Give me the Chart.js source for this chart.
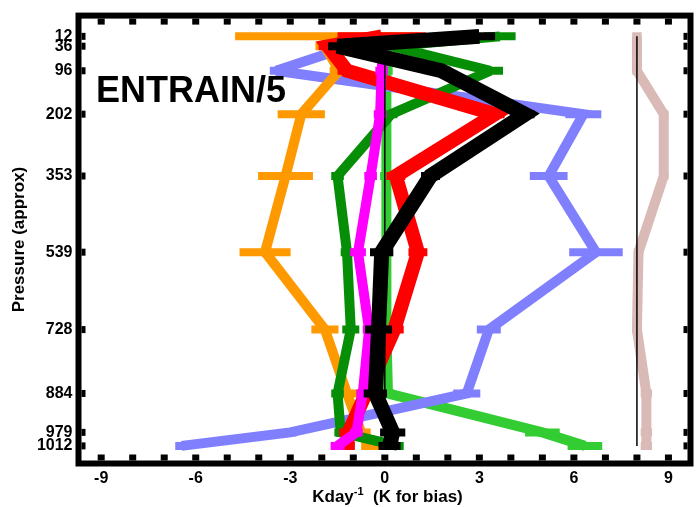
<!DOCTYPE html>
<html>
<head>
<meta charset="utf-8">
<script src="https://cdn.jsdelivr.net/npm/chart.js@4.4.1/dist/chart.umd.min.js"></script>
<style>
  html, body { margin: 0; padding: 0; background: #ffffff; }
  canvas { display: block; }
</style>
</head>
<body>
<canvas id="chart" width="696" height="507"></canvas>
<script>
// Pressure levels (hPa, approx) used as the vertical coordinate
const levels = [12, 36, 96, 202, 353, 539, 728, 884, 979, 1012];
const xTickValues = [-9, -6, -3, 0, 3, 6, 9];

// Profiles (K/day, K for bias) and their error half-widths
const orangeVals   = [-1.8, -1.9, -1.45, -2.65, -3.15, -3.8, -1.9, -1.2, -0.75, -0.45];
const orangeErr    = [2.95, 0.3, 0.3, 0.75, 0.87, 0.81, 0.43, 0.3, 0.3, 0.3];

const redVals      = [-0.1, -1.8, -1.2, 3.5, 0.35, 1.05, 0.3, -0.6, -1.15, -1.2];
const redErr       = [1.4, 0.3, 0.3, 0.3, 0.3, 0.3, 0.3, 0.3, 0.3, 0.25];

const blackVals    = [3.0, -1.5, 1.8, 4.45, 1.45, -0.1, -0.2, -0.3, 0.25, 0.15];
const blackErr     = [0.5, 0.3, 0.3, 0.3, 0.3, 0.37, 0.43, 0.37, 0.4, 0.35];

// no value at the topmost level for this profile
const magentaVals  = [null, -0.05, -0.1, -0.15, -0.45, -0.85, -0.5, -0.7, -0.9, -1.5];
const magentaErr   = [null, 0.2, 0.2, 0.2, 0.2, 0.25, 0.2, 0.2, 0.2, 0.22];

const dkGreenVals  = [3.65, 0.2, 3.35, 0.2, -1.5, -1.2, -1.08, -1.5, -1.4, 0.4];
const dkGreenErr   = [0.5, 0.2, 0.4, 0.2, 0.2, 0.2, 0.27, 0.2, 0.2, 0.2];

const ltGreenVals  = [0.05, 0.05, 0.05, 0.05, 0.05, 0.05, 0.05, 0.1, 5.0, 6.35];
const ltGreenErr   = [0.2, 0.2, 0.2, 0.2, 0.2, 0.2, 0.2, 0.2, 0.55, 0.55];

const blueVals     = [-0.3, -1.1, -3.45, 6.3, 5.2, 6.7, 3.3, 2.6, -3.0, -6.45];
const blueErr      = [0.2, 0.2, 0.2, 0.57, 0.6, 0.85, 0.38, 0.43, 0.2, 0.2];

// Bias profile, plotted around its own reference line
const biasVals     = [8.0, 8.0, 8.0, 8.85, 8.85, 8.05, 8.0, 8.3, 8.3, 8.3];
const biasErr      = [0.15, 0.15, 0.15, 0.15, 0.15, 0.15, 0.15, 0.18, 0.18, 0.18];

// Reference verticals: zero line and bias origin
const referenceX   = [0, 8];

const FONT = '"Liberation Sans", Arial, Helvetica, sans-serif';

function capRadius(values, errs) {
  return (ctx) => {
    const s = ctx.chart.scales.x;
    const i = ctx.dataIndex;
    if (!s || values[i] == null || errs[i] == null) return 0;
    return Math.abs(s.getPixelForValue(values[i] + errs[i]) - s.getPixelForValue(values[i]));
  };
}

function profile(values, errs, color, width, order) {
  const r = capRadius(values, errs);
  return {
    data: levels.map((p, i) => ({ x: values[i], y: p })),
    showLine: true,
    borderColor: color,
    backgroundColor: color,
    borderWidth: width,
    borderJoinStyle: 'miter',
    borderCapStyle: 'butt',
    tension: 0,
    pointStyle: 'line',
    pointRadius: r,
    pointHoverRadius: r,
    pointBorderColor: color,
    pointBackgroundColor: color,
    pointBorderWidth: 8,
    pointHoverBorderWidth: 8,
    order: order
  };
}

function refLine(x, order) {
  return {
    data: [{ x: x, y: levels[0] }, { x: x, y: levels[levels.length - 1] }],
    showLine: true,
    borderColor: '#000000',
    borderWidth: 1.5,
    pointRadius: 0,
    pointHoverRadius: 0,
    order: order
  };
}

const datasets = [
  profile(blackVals, blackErr, '#000000', 15, 0),
  refLine(referenceX[0], 1),
  refLine(referenceX[1], 1),
  profile(magentaVals, magentaErr, '#FF00FF', 10, 2),
  profile(redVals, redErr, '#FF0000', 14, 3),
  profile(dkGreenVals, dkGreenErr, '#078E07', 10, 4),
  profile(orangeVals, orangeErr, '#FF9900', 10, 5),
  profile(blueVals, blueErr, '#8080FF', 10, 6),
  profile(ltGreenVals, ltGreenErr, '#33CC33', 10, 7),
  profile(biasVals, biasErr, '#D9BAB6', 10, 8)
];

// Frame, inward tick marks, panel label and x-axis title
const framePlugin = {
  id: 'frame',
  beforeDraw(chart) {
    const ctx = chart.ctx;
    ctx.save();
    ctx.fillStyle = '#ffffff';
    ctx.fillRect(0, 0, chart.width, chart.height);
    ctx.restore();
  },
  beforeDatasetsDraw(chart) {
    // keep sharp joins from turning into long spikes
    chart.ctx.miterLimit = 3;
  },
  afterDatasetsDraw(chart) {
    const { ctx, chartArea: a, scales } = chart;
    const xs = scales.x, ys = scales.y;
    const lw = 6;
    ctx.miterLimit = 10;
    ctx.save();
    ctx.fillStyle = '#000000';
    // minor ticks every unit on top and bottom edges
    for (let v = -9; v <= 9; v++) {
      const px = xs.getPixelForValue(v);
      ctx.fillRect(px - 3.5, a.bottom - lw / 2 - 6, 7, 6);
      ctx.fillRect(px - 3.5, a.top + lw / 2, 7, 6);
    }
    // ticks at each level on left and right edges
    levels.forEach(p => {
      const py = ys.getPixelForValue(p);
      ctx.fillRect(a.left + lw / 2, py - 3.5, 4, 7);
      ctx.fillRect(a.right - lw / 2 - 4, py - 3.5, 4, 7);
    });
    ctx.strokeStyle = '#000000';
    ctx.lineWidth = lw;
    ctx.strokeRect(a.left, a.top, a.right - a.left, a.bottom - a.top);

    // panel label
    ctx.font = 'bold 36px ' + FONT;
    ctx.textAlign = 'left';
    ctx.textBaseline = 'alphabetic';
    ctx.fillText('ENTRAIN/5', 96, 102);
    ctx.restore();
  },
  afterDraw(chart) {
    const ctx = chart.ctx;
    const a = chart.chartArea;
    ctx.save();
    ctx.fillStyle = '#000000';
    ctx.textBaseline = 'alphabetic';
    ctx.textAlign = 'left';
    const mainFont = 'bold 17px ' + FONT;
    const supFont = 'bold 11px ' + FONT;
    const p1 = 'Kday', sup = '-1', p2 = '  (K for bias)';
    ctx.font = mainFont;
    const w1 = ctx.measureText(p1).width;
    const w3 = ctx.measureText(p2).width;
    ctx.font = supFont;
    const w2 = ctx.measureText(sup).width;
    const total = w1 + w2 + w3;
    let x = (a.left + a.right) / 2 + 3 - total / 2;
    const y = 502;
    ctx.font = mainFont;
    ctx.fillText(p1, x, y);
    x += w1;
    ctx.font = supFont;
    ctx.fillText(sup, x, y - 7);
    x += w2;
    ctx.font = mainFont;
    ctx.fillText(p2, x, y);
    ctx.restore();
  }
};

new Chart(document.getElementById('chart'), {
  type: 'scatter',
  data: { datasets },
  plugins: [framePlugin],
  options: {
    responsive: false,
    animation: false,
    devicePixelRatio: 1,
    events: [],
    layout: { padding: { top: 9.5, right: 5.5, left: 0, bottom: 0 } },
    plugins: { legend: { display: false }, tooltip: { enabled: false }, title: { display: false } },
    scales: {
      x: {
        type: 'linear',
        position: 'bottom',
        min: -9.72,
        max: 9.70,
        afterBuildTicks: (s) => { s.ticks = xTickValues.map(v => ({ value: v })); },
        afterFit: (s) => { s.height = 43.5; },
        grid: { display: false, drawTicks: false },
        border: { display: false },
        ticks: {
          autoSkip: false,
          maxRotation: 0,
          padding: 5,
          color: '#000000',
          font: { family: FONT, size: 16, weight: 'bold' }
        }
      },
      y: {
        type: 'linear',
        position: 'left',
        reverse: true,
        min: -38.7,
        max: 1055,
        afterBuildTicks: (s) => { s.ticks = levels.map(v => ({ value: v })); },
        afterFit: (s) => { s.width = 78.5; },
        grid: { display: false, drawTicks: false },
        border: { display: false },
        ticks: {
          autoSkip: false,
          padding: 6,
          color: '#000000',
          font: { family: FONT, size: 16, weight: 'bold' },
          callback: (v) => String(v)
        },
        title: {
          display: true,
          text: 'Pressure (approx)',
          color: '#000000',
          font: { family: FONT, size: 17, weight: 'bold' },
          padding: { top: 9, bottom: 0 }
        }
      }
    }
  }
});
</script>
</body>
</html>
